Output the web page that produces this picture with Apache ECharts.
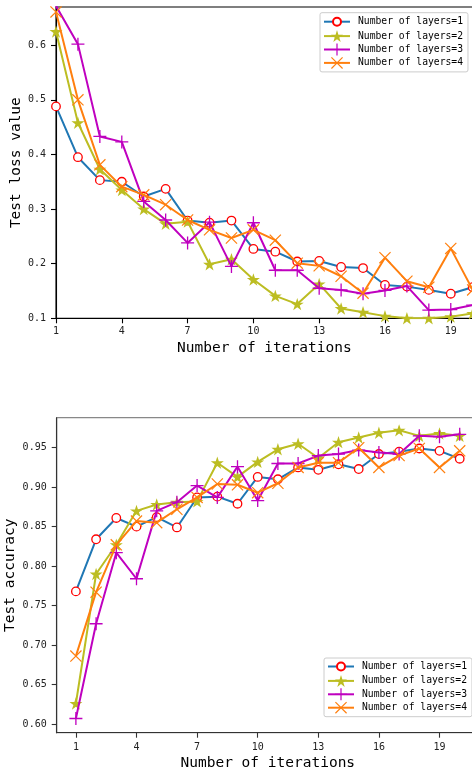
<!DOCTYPE html>
<html>
<head>
<meta charset="utf-8">
<script src="https://cdn.jsdelivr.net/npm/echarts@6/dist/echarts.min.js"></script>
<style>
html,body{margin:0;padding:0;background:#fff;}
#c{width:472px;height:774px;}
</style>
</head>
<body>
<div id="c"></div>
<script>
// ---- data ----
const iterations = [1,2,3,4,5,6,7,8,9,10,11,12,13,14,15,16,17,18,19,20];
const seriesNames = ['Number of layers=1','Number of layers=2','Number of layers=3','Number of layers=4'];

const loss1 = [0.488,0.395,0.353,0.350,0.323,0.337,0.279,0.275,0.279,0.227,0.222,0.204,0.205,0.194,0.192,0.161,0.158,0.152,0.145,0.157];
const loss2 = [0.625,0.458,0.373,0.335,0.300,0.273,0.277,0.199,0.208,0.171,0.141,0.126,0.163,0.118,0.111,0.104,0.100,0.100,0.103,0.109];
const loss3 = [0.672,0.602,0.433,0.423,0.314,0.280,0.238,0.276,0.195,0.275,0.188,0.188,0.155,0.152,0.145,0.151,0.159,0.115,0.116,0.124];
const loss4 = [0.661,0.500,0.381,0.341,0.326,0.308,0.280,0.262,0.247,0.262,0.243,0.201,0.196,0.177,0.146,0.211,0.168,0.157,0.228,0.152];

const acc1 = [0.768,0.834,0.861,0.850,0.862,0.849,0.887,0.888,0.879,0.913,0.910,0.925,0.922,0.929,0.923,0.942,0.945,0.949,0.946,0.936];
const acc2 = [0.626,0.790,0.827,0.870,0.878,0.881,0.882,0.931,0.913,0.932,0.948,0.955,0.937,0.957,0.963,0.969,0.972,0.965,0.968,0.965];
const acc3 = [0.607,0.727,0.817,0.784,0.870,0.881,0.902,0.887,0.926,0.883,0.930,0.930,0.940,0.942,0.947,0.944,0.942,0.965,0.964,0.967];
const acc4 = [0.686,0.767,0.827,0.857,0.855,0.872,0.887,0.904,0.903,0.893,0.905,0.925,0.931,0.931,0.950,0.925,0.940,0.949,0.925,0.946];

const xTicks = [1,4,7,10,13,16,19];
const lossTicks = [0.1,0.2,0.3,0.4,0.5,0.6];
const accTicks = [0.60,0.65,0.70,0.75,0.80,0.85,0.90,0.95];

// ---- styles ----
const FONT = '"DejaVu Sans Mono", "Liberation Mono", monospace';
// circle drawn at 2/3 of its box so legend icons keep matplotlib's relative sizes
const CIRCLE = 'path://M0,0 M100,100 M16.7,50 A33.3,33.3 0 1 1 83.3,50 A33.3,33.3 0 1 1 16.7,50 Z';
const STAR = 'path://M50,0 L61.23,34.55 L97.55,34.55 L68.17,55.9 L79.39,90.45 L50,69.1 L20.61,90.45 L31.83,55.9 L2.45,34.55 L38.77,34.55 Z';
const PLUS = 'path://M45,0 L55,0 L55,45 L100,45 L100,55 L55,55 L55,100 L45,100 L45,55 L0,55 L0,45 L45,45 Z';
const CROSS = 'path://M0,7 L7,0 L100,93 L93,100 Z M93,0 L100,7 L7,100 L0,93 Z';

const styles = [
  {line:'#1f77b4', symbol:CIRCLE, size:12.8, item:{color:'#ffffff', borderColor:'#ff0000', borderWidth:1.3}},
  {line:'#bcbd22', symbol:STAR, size:[13,12.4], item:{color:'#bcbd22', borderWidth:0}},
  {line:'#bf00bf', symbol:PLUS, size:13, item:{color:'#bf00bf', borderWidth:0}},
  {line:'#ff7f0e', symbol:CROSS, size:12, item:{color:'#ff7f0e', borderWidth:0}}
];

function pairs(ys){ return iterations.map((x,i)=>[x, ys[i]]); }

function mkSeries(idx, ys, gi){
  const s = styles[idx];
  return {
    type:'line', name:seriesNames[idx], xAxisIndex:gi, yAxisIndex:gi,
    data:pairs(ys), symbol:s.symbol, symbolSize:s.size, showAllSymbol:true,
    lineStyle:{color:s.line, width:2}, itemStyle:s.item,
    emphasis:{disabled:true}, clip:true, z:2+idx
  };
}

function xAxis(gi, min, max, gap, labelMargin, lineColor){
  return {
    type:'value', gridIndex:gi, min:min, max:max,
    name:'Number of iterations', nameLocation:'middle', nameGap:gap, nameMoveOverlap:false,
    nameTextStyle:{fontFamily:FONT, fontSize:14.5, color:'#000'},
    axisLine:{show:true, lineStyle:{color:lineColor, width:1.1}},
    axisTick:{show:true, inside:false, length:5, customValues:xTicks, lineStyle:{color:lineColor, width:1.1}},
    axisLabel:{customValues:xTicks, margin:labelMargin, fontFamily:FONT, fontSize:10, color:'#222', formatter:v=>String(v)},
    splitLine:{show:false}
  };
}

function yAxis(gi, min, max, ticks, name, gap, dec, lineColor){
  return {
    type:'value', gridIndex:gi, min:min, max:max,
    name:name, nameLocation:'middle', nameGap:gap, nameMoveOverlap:false,
    nameTextStyle:{fontFamily:FONT, fontSize:14.5, color:'#000'},
    axisLine:{show:true, lineStyle:{color:lineColor, width:1.1}},
    axisTick:{show:true, inside:false, length:5, customValues:ticks, lineStyle:{color:lineColor, width:1.1}},
    axisLabel:{customValues:ticks, margin:10, fontFamily:FONT, fontSize:10, color:'#222', formatter:v=>v.toFixed(dec)},
    splitLine:{show:false}
  };
}

function legend(left, top, pad){
  return {
    data:seriesNames, orient:'vertical', left:left, top:top,
    itemWidth:26, itemHeight:15, itemGap:1.4,
    padding:pad,
    backgroundColor:'rgba(255,255,255,0.85)', borderColor:'#cccccc', borderWidth:1, borderRadius:2,
    textStyle:{fontFamily:FONT, fontSize:9.7, color:'#000', padding:[0,0,0,3]},
    selectedMode:false
  };
}

const option = {
  animation:false,
  backgroundColor:'#ffffff',
  grid:[
    {left:56, top:7, width:416.7, height:311.3, outerBoundsMode:'none', containLabel:false, show:true, borderColor:'#000', borderWidth:1.1, backgroundColor:'transparent'},
    {left:56.7, top:417.7, width:422.2, height:315, outerBoundsMode:'none', containLabel:false, show:true, borderColor:'#888', borderWidth:1.3, backgroundColor:'transparent'}
  ],
  xAxis:[ xAxis(0, 1, 20, 22, 8, '#000'), xAxis(1, 0.05, 20.95, 23, 10, '#333') ],
  yAxis:[
    yAxis(0, 0.1, 0.67, lossTicks, 'Test loss value', 32, 1, '#000'),
    yAxis(1, 0.589, 0.988, accTicks, 'Test accuracy', 39, 2, '#333')
  ],
  legend:[ legend(320, 12.7, [2,5,3,3]), legend(324, 658, [1.5,5,3,3]) ],
  series:[
    mkSeries(0, loss1, 0), mkSeries(1, loss2, 0), mkSeries(2, loss3, 0), mkSeries(3, loss4, 0),
    mkSeries(0, acc1, 1), mkSeries(1, acc2, 1), mkSeries(2, acc3, 1), mkSeries(3, acc4, 1)
  ]
};

const chart = echarts.init(document.getElementById('c'), null, {renderer:'canvas', width:472, height:774});
chart.setOption(option);
</script>
</body>
</html>
